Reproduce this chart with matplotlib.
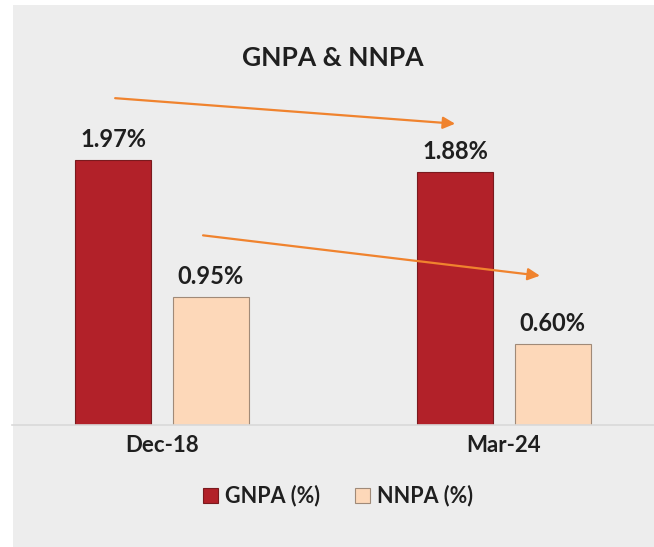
import matplotlib.pyplot as plt
import numpy as np
from matplotlib.patches import Rectangle

plt.rcParams['font.family'] = ['Lato', 'DejaVu Sans']

# data
periods = ['Dec-18', 'Mar-24']
gnpa = [1.97, 1.88]
nnpa = [0.95, 0.60]
series_names = ['GNPA (%)', 'NNPA (%)']

GNPA_COLOR = '#B22129'
NNPA_COLOR = '#FDD8B9'
ARROW_COLOR = '#F0832E'
BG = '#EDEDED'
TXT = '#1f1f1f'

W, H = 654, 547
fig = plt.figure(figsize=(W / 100, H / 100), dpi=100)
fig.patch.set_facecolor('white')
fig.patches.append(Rectangle((13 / W, 0), 1 - 13 / W, 1 - 5 / H,
                             transform=fig.transFigure, facecolor=BG,
                             edgecolor='none', zorder=-10))

# axes: baseline at y=425 px, top at y=5 px
ax = fig.add_axes([12 / W, 122 / H, 1 - 12 / W, 420 / H])
ax.set_facecolor('none')

x = np.arange(len(periods))
width = 0.222
offset = 0.142

b1 = ax.bar(x - offset, gnpa, width, color=GNPA_COLOR, edgecolor='#7a1a1e',
            linewidth=0.8, label=series_names[0], zorder=2)
b2 = ax.bar(x + offset, nnpa, width, color=NNPA_COLOR, edgecolor='#a08a78',
            linewidth=0.8, label=series_names[1], zorder=2)

for bars, vals in [(b1, gnpa), (b2, nnpa)]:
    for rect, v in zip(bars, vals):
        ax.text(rect.get_x() + rect.get_width() / 2, v + 0.07, f'{v:.2f}%',
                ha='center', va='bottom', fontsize=17, fontweight='bold',
                color=TXT)

ax.set_xlim(-0.4386, 1.4386)
ax.set_ylim(0, 420 / 134.5)

# trend arrows
arrows = [((-0.137, 2.43), (0.857, 2.24)), ((0.12, 1.41), (1.105, 1.11))]
for start, end in arrows:
    ax.annotate('', xy=end, xytext=start,
                arrowprops=dict(arrowstyle='-|>', color=ARROW_COLOR, lw=1.6,
                                mutation_scale=18, shrinkA=0, shrinkB=0),
                zorder=3)

for s in ['top', 'right', 'left']:
    ax.spines[s].set_visible(False)
ax.spines['bottom'].set_color('#D9D9D9')
ax.spines['bottom'].set_linewidth(1.2)
ax.set_yticks([])
ax.set_xticks(x)
ax.set_xticklabels(periods, fontsize=16, fontweight='bold', color=TXT)
ax.tick_params(axis='x', length=0, pad=7)

fig.text(333 / W, 1 - 58 / H, 'GNPA & NNPA', ha='center', va='center',
         fontsize=19, fontweight='bold', color=TXT)

leg = fig.legend(handles=[b1, b2], labels=series_names, loc='center',
                 bbox_to_anchor=(338 / W, 1 - 496 / H), ncol=2, frameon=False,
                 prop={'size': 15.5, 'weight': 'bold'}, handlelength=0.7,
                 handleheight=0.7, handletextpad=0.35, columnspacing=1.6)
for t in leg.get_texts():
    t.set_color(TXT)

fig.savefig('out.png', dpi=100, facecolor=fig.get_facecolor())
